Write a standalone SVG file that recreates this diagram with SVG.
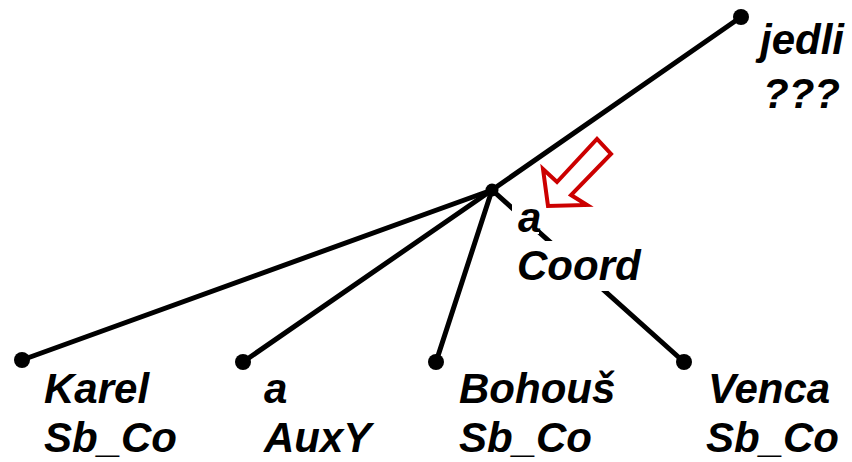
<svg xmlns="http://www.w3.org/2000/svg" width="852" height="462" viewBox="0 0 852 462">
<style>
.edge{stroke:#000;stroke-width:5;fill:none;stroke-linecap:round}
.dot{fill:#000}
.lbl{font-family:"Liberation Sans",Arial,sans-serif;font-weight:bold;font-style:italic;font-size:42px;fill:#000}
.bg{fill:#fff}
.hint{fill:#fff;stroke:#cc0000;stroke-width:4;stroke-linejoin:miter}
</style>
<rect width="852" height="462" fill="#fff"/>
<g id="connectors">
<line class="edge" x1="492" y1="190" x2="741" y2="17"/>
<line class="edge" x1="492" y1="190" x2="22" y2="360"/>
<line class="edge" x1="492" y1="190" x2="243" y2="362"/>
<line class="edge" x1="492" y1="190" x2="436" y2="362"/>
<line class="edge" x1="492" y1="190" x2="684" y2="362"/>
</g>
<g id="node-jedli">
<circle class="dot" cx="741" cy="17" r="8"/>
<text class="lbl" x="760" y="54">jedli</text>
<text class="lbl" x="763" y="108">???</text>
</g>
<g id="node-a-coord">
<circle class="dot" cx="492" cy="190" r="6.5"/>
<rect class="bg" x="512" y="204" width="27" height="30"/>
<rect class="bg" x="512" y="241" width="140" height="50"/>
<text class="lbl" x="518" y="232">a</text>
<text class="lbl" x="517" y="280">Coord</text>
</g>
<g id="node-karel">
<circle class="dot" cx="22" cy="360" r="8"/>
<text class="lbl" x="44" y="403">Karel</text>
<text class="lbl" x="44" y="452">Sb_Co</text>
</g>
<g id="node-a-auxy">
<circle class="dot" cx="243" cy="362" r="8"/>
<text class="lbl" x="264" y="403">a</text>
<text class="lbl" x="264" y="452">AuxY</text>
</g>
<g id="node-bohous">
<circle class="dot" cx="436" cy="362" r="8"/>
<text class="lbl" x="459" y="403">Bohouš</text>
<text class="lbl" x="459" y="452">Sb_Co</text>
</g>
<g id="node-venca">
<circle class="dot" cx="684" cy="362" r="8"/>
<text class="lbl" x="708" y="403">Venca</text>
<text class="lbl" x="706" y="452">Sb_Co</text>
</g>
<g id="red-arrow">
<polygon class="hint" points="548,206 543,169 557,182 597,139 611,154 571,195 587,205"/>
</g>
</svg>
